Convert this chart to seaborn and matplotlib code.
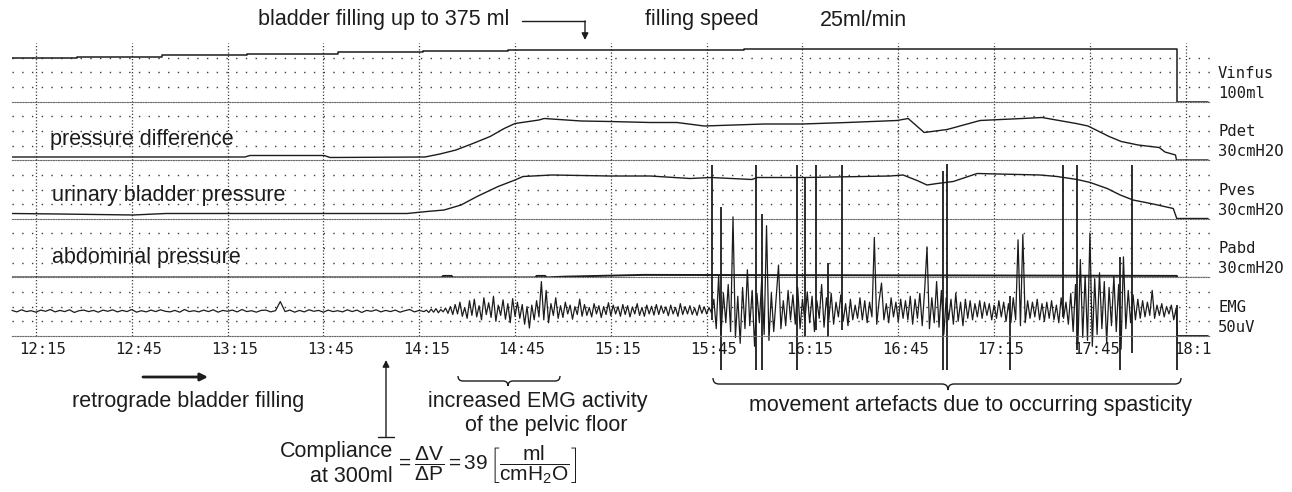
import numpy as np
import matplotlib
matplotlib.use("Agg")
import matplotlib.pyplot as plt
import seaborn as sns
from matplotlib.transforms import ScaledTranslation
from matplotlib.path import Path
from matplotlib.patches import PathPatch, FancyArrowPatch
from matplotlib.lines import Line2D

# ---------------- data (time = minutes after 12:00) ----------------
tick_minutes = [15, 45, 75, 105, 135, 165, 195, 225, 255, 285, 315, 345, 375]
tick_labels = ["12:15", "12:45", "13:15", "13:45", "14:15", "14:45", "15:15",
               "15:45", "16:15", "16:45", "17:15", "17:45", "18:1"]

# infused volume (ml), step trace
vinfus_t = [7.5, 27.8, 54.5, 81.1, 109.6, 136.2, 162.8, 236.7, 372.3, 382.0]
vinfus_ml = [296, 302, 316, 327, 336, 345, 354, 361, 0, 0]

# detrusor pressure (cmH2O)
pdet_t = [7.5, 80.4, 82.0, 105.2, 107.1, 136.8, 141.5, 146.5, 151.8, 157.2,
          161.6, 165.0, 172.5, 174.1, 185.7, 194.7, 207.3, 215.7, 224.2, 243.0,
          254.9, 269.0, 284.6, 288.1, 293.1, 300.3, 310.6, 323.8, 330.0, 340.7,
          344.4, 351.0, 354.8, 360.1, 366.7, 368.5, 371.8, 372.1, 382.0]
pdet_cmh2o = [0, 0, 3, 3, -1, 0, 6, 14, 27, 41,
              57, 67, 74, 77, 72, 71, 69, 69, 62, 66,
              66, 69, 73, 77, 49, 55, 73, 77, 79, 67,
              62, 41, 31, 24, 19, 10, 4, -6, -6]

# vesical pressure (cmH2O)
pves_t = [7.5, 22.2, 45.4, 55.7, 131.2, 137.4, 142.8, 148.1, 153.1, 159.7,
          165.0, 167.5, 176.6, 194.7, 207.3, 219.8, 226.4, 239.2, 240.8, 256.1,
          282.4, 286.5, 290.9, 294.0, 297.2, 302.2, 309.7, 329.4, 334.7, 341.0,
          345.1, 350.4, 354.5, 358.5, 364.8, 371.1, 372.2, 382.0]
pves_cmh2o = [0, -1, -3, 0, 0, 4, 7, 17, 34, 54,
              67, 74, 77, 75, 75, 70, 72, 68, 72, 72,
              75, 77, 66, 57, 60, 64, 80, 77, 74, 68,
              62, 50, 37, 27, 19, 10, -10, -10]

# abdominal pressure (cmH2O)
pabd_t = [7.5, 142.0, 142.5, 145.1, 145.6, 171.3, 171.8, 174.4, 174.9, 180.6,
          205.1, 300.0, 372.2, 372.5, 382.0]
pabd_cmh2o = [-1, -1, 2, 2, -1, -1, 2, 2, -1, 0.5,
              4, 3, 2, -2, -2]

# pelvic floor EMG (uV), three recording segments with their sample spacing
emg_quiet_start, emg_quiet_step = 7.5, 1.5
emg_quiet_uv = [2, -3, 4, -2, 1, -4, 3, -1, 5, -3, 2, -2, 4, -5, 1, 3, -2, 2, -4, 3,
                -1, 4, -3, 2, -2, 5, -4, 1, -3, 3, -2, 4, -1, -3, 2, -4, 5, -2, 1, -3,
                3, -2, 4, -4, 2, -1, 3, -3, 5, -2, 1, -4, 2, 3, -3, 1, 32, -2, 3, -4,
                2, -3, 4, -1, 2, -4, 3, -2, 1, -3, 4, -2, 3, -5, 2, -1, 4, -3, 2, -2,
                3, -4, 1, 5, -3, 2, -2]
emg_active_start, emg_active_step = 137.25, 0.75
emg_active_uv = [3, -5, 6, -4, 8, -6, 5, -3, 10, -8,
                 15, -12, 22, -10, 30, -18, 12, -25, 35, -15,
                 40, -20, 18, -30, 45, -12, 28, -22, 50, -35,
                 20, -15, 38, -28, 25, -40, 42, -18, 30, -25,
                 22, -45, 15, -58, 20, -30, 35, -20, 100, -30,
                 70, -40, 25, -15, 45, -25, 18, -22, 30, -10,
                 20, -28, 15, -12, 40, -18, 22, -15, 12, -20,
                 25, -10, 18, -22, 15, -12, 28, -16, 20, -10,
                 15, -18, 22, -12, 18, -20, 14, -10, 25, -15,
                 12, -18, 20, -10, 16, -14, 22, -12, 18, -8,
                 14, -16, 20, -10, 12, -18, 25, -12, 15, -10,
                 18, -12, 10, -15, 20, -8, 14, -10, 12, -6]
emg_spastic_start, emg_spastic_step = 227.25, 0.75
emg_spastic_uv = [40, -60, 120, -80, 60, -40, 90, -70, 320, -90,
                  50, -110, 80, -60, 140, -50, 70, -120, 60, -40,
                  110, -80, 290, -100, 60, -70, 45, 156, -60, 35,
                  -50, 70, -30, 55, -45, 80, -60, 40, -35, 65,
                  -40, 50, -70, 35, -25, 90, -55, 45, -30, 60,
                  -45, 30, -20, 55, -35, 25, -50, 40, -30, 20,
                  -25, 45, -30, 35, -40, 30, -20, 250, -45, 35,
                  95, -30, 25, -40, 45, -20, 30, -35, 40, -25,
                  35, -30, 50, -45, 40, -25, 60, -50, 70, 218,
                  -60, 45, -40, 100, -55, 70, -80, 45, -30, 40,
                  -45, 60, -35, 30, -50, 40, -25, 35, -30, 25,
                  -20, 35, -25, 30, -15, 25, -30, 20, -25, 35,
                  -20, 30, -35, 25, -40, 45, -30, 242, -50, 260,
                  -40, 35, -25, 30, -20, 40, -30, 25, -35, 30,
                  -25, 35, -30, 20, -40, 45, -25, 30, -45, 60,
                  -70, 90, -110, 175, -90, 120, -100, 265, -120, 110,
                  -80, 130, -60, 100, -110, 80, -50, 120, -70, 90,
                  -130, 184, -60, 70, -40, 55, -30, 40, -25, 35,
                  -20, 30, -15, 70, -25, 20, -15, 25, -20, 15,
                  -10, 20, -30, 10]
emg_end_t = [372.4, 382.0]
emg_end_uv = [-84, -84]

# movement artefacts (uV, relative to EMG baseline)
art_t = [226.7, 229.5, 240.5, 242.4, 253.4, 255.9, 259.3, 263.0, 267.4,
         299.0, 300.3, 320.0, 336.6, 341.0, 354.5, 358.2, 372.3]
art_top_uv = [497, 355, 497, 330, 497, 452, 497, 163, 497,
              475, 500, 50, 497, 497, 184, 497, 20]
art_bottom_uv = [-30, -200, -200, -200, -200, -88, -65, -88, -65,
                 -200, -200, -200, -20, -133, -200, -143, -200]

channel_names = ["Vinfus", "Pdet", "Pves", "Pabd", "EMG"]
channel_scales = ["100ml", "30cmH2O", "30cmH2O", "30cmH2O", "50uV"]

# ---------------- style ----------------
sns.set_theme(style="white")
plt.rcParams["font.family"] = ["Liberation Sans", "DejaVu Sans"]
plt.rcParams["mathtext.fontset"] = "custom"
plt.rcParams["mathtext.rm"] = "Liberation Sans"
plt.rcParams["mathtext.it"] = "Liberation Sans"
plt.rcParams["mathtext.bf"] = "Liberation Sans:bold"

W, H = 1292, 492
fig = plt.figure(figsize=(W / 100, H / 100), dpi=100)
fig.patch.set_facecolor("white")

def fx(px):
    return px / W

def fy(py):
    return 1 - py / H

INK = "#1c1c1c"
DOT = "#3a3a3a"
SEP = "#6a6a6a"
SANS = 15.5
MONO = 11.2
mono = ["DejaVu Sans Mono"]

left_px, right_px = 12, 1210
band_tops = [43, 101.6, 160.2, 218.8, 277.4]
band_h = 58.6
ylims = [(0, 400), (-6.4, 110.8), (-10.6, 106.6), (-1, 116.2), (-85, 114.2)]

axes = []
for i, top in enumerate(band_tops):
    ax = fig.add_axes([fx(left_px), fy(top + band_h), (right_px - left_px) / W, band_h / H])
    ax.patch.set_alpha(0)
    ax.set_xlim(7.5, 382.6)
    lo, hi = ylims[i]
    ax.set_ylim(lo, hi)
    ax.set_xticks(tick_minutes)
    ax.set_yticks([lo + k * (hi - lo) / 4 for k in (1, 2, 3)])
    ax.grid(True, axis="x", color=DOT, ls=(0, (1, 1.6)), lw=0.9)
    ax.grid(True, axis="y", color=DOT, ls=(0, (1, 6)), lw=1.0)
    ax.tick_params(length=0, labelleft=False, labelbottom=False)
    for s in ("left", "right", "top"):
        ax.spines[s].set_visible(False)
    ax.spines["bottom"].set_linestyle((0, (1, 1.3)))
    ax.spines["bottom"].set_color(SEP)
    ax.spines["bottom"].set_linewidth(0.8)
    axes.append(ax)
    fig.text(fx(1218), fy(top + 30), channel_names[i], family=mono, fontsize=MONO,
             color=INK, va="center", ha="left")
    fig.text(fx(1218), fy(top + 50), channel_scales[i], family=mono, fontsize=MONO,
             color=INK, va="center", ha="left")

ax_v, ax_det, ax_ves, ax_abd, ax_emg = axes

sns.lineplot(x=vinfus_t, y=vinfus_ml, ax=ax_v, color=INK, lw=1.1,
             drawstyle="steps-post", estimator=None, sort=False, legend=False)
sns.lineplot(x=pdet_t, y=pdet_cmh2o, ax=ax_det, color=INK, lw=1.0,
             estimator=None, sort=False, legend=False)
sns.lineplot(x=pves_t, y=pves_cmh2o, ax=ax_ves, color=INK, lw=1.0,
             estimator=None, sort=False, legend=False)
sns.lineplot(x=pabd_t, y=pabd_cmh2o, ax=ax_abd, color=INK, lw=1.4,
             estimator=None, sort=False, legend=False)

emg_t = np.concatenate([
    emg_quiet_start + emg_quiet_step * np.arange(len(emg_quiet_uv)),
    emg_active_start + emg_active_step * np.arange(len(emg_active_uv)),
    emg_spastic_start + emg_spastic_step * np.arange(len(emg_spastic_uv)),
    emg_end_t])
emg_uv = np.concatenate([emg_quiet_uv, emg_active_uv, emg_spastic_uv, emg_end_uv])
sns.lineplot(x=emg_t, y=emg_uv, ax=ax_emg, color=INK, lw=0.9,
             estimator=None, sort=False, legend=False, clip_on=False)
ax_emg.vlines(art_t, art_bottom_uv, art_top_uv, colors=INK, lw=1.3, clip_on=False)

for ax in axes:
    ax.set_xlabel("")
    ax.set_ylabel("")
    ax.set_xlim(7.5, 382.6)

ax_emg.set_xticks(tick_minutes, tick_labels)
ax_emg.tick_params(labelbottom=True, pad=4)
shift = ScaledTranslation(7 / 100, 0, fig.dpi_scale_trans)
for lab in ax_emg.get_xticklabels():
    lab.set_family(mono)
    lab.set_fontsize(MONO)
    lab.set_color(INK)
    lab.set_transform(lab.get_transform() + shift)

# ---------------- annotations ----------------
def ftext(x, y, s, **kw):
    kw.setdefault("fontsize", SANS)
    kw.setdefault("color", INK)
    kw.setdefault("va", "center")
    fig.text(fx(x), fy(y), s, **kw)

ftext(258, 20, "bladder filling up to 375 ml")
ftext(645, 20, "filling speed")
ftext(820, 20, "25ml/min")
ftext(50, 139, "pressure difference")
ftext(52, 196, "urinary bladder pressure")
ftext(52, 257, "abdominal pressure")
ftext(72, 402, "retrograde bladder filling")
ftext(428, 402, "increased EMG activity")
ftext(465, 425, "of the pelvic floor")
ftext(749, 405, "movement artefacts due to occurring spasticity")
ftext(393, 451, "Compliance", ha="right")
ftext(393, 476, "at 300ml", ha="right")
ftext(395, 465, r"$=\dfrac{\Delta\mathrm{V}}{\Delta\mathrm{P}}=39\,\left[\dfrac{\mathrm{ml}}{\mathrm{cmH_2O}}\right]$",
      ha="left", fontsize=15)

# arrows
fig.add_artist(Line2D([fx(522), fx(585)], [fy(21), fy(21)], color=INK, lw=1.0,
                      transform=fig.transFigure))
fig.add_artist(FancyArrowPatch((fx(585), fy(21)), (fx(585), fy(40)),
                               arrowstyle="-|>", mutation_scale=10, color=INK, lw=1.0,
                               transform=fig.transFigure, shrinkA=0, shrinkB=0))
fig.add_artist(FancyArrowPatch((fx(143), fy(377)), (fx(208), fy(377)),
                               arrowstyle="-|>", mutation_scale=11, color=INK, lw=2.0,
                               transform=fig.transFigure, shrinkA=0, shrinkB=0))
fig.add_artist(FancyArrowPatch((fx(386), fy(437)), (fx(386), fy(360)),
                               arrowstyle="-|>", mutation_scale=10, color=INK, lw=1.0,
                               transform=fig.transFigure, shrinkA=0, shrinkB=0))
fig.add_artist(Line2D([fx(378), fx(394)], [fy(437), fy(437)], color=INK, lw=1.0,
                      transform=fig.transFigure))

def brace(x0, x1, y, h, xm=None):
    xm = (x0 + x1) / 2 if xm is None else xm
    pts = [(x0, y - h), (x0, y), (x0 + h, y), (xm - h, y), (xm, y), (xm, y + h),
           (xm, y), (xm + h, y), (x1 - h, y), (x1, y), (x1, y - h)]
    codes = [Path.MOVETO, Path.CURVE3, Path.CURVE3, Path.LINETO, Path.CURVE3, Path.CURVE3,
             Path.CURVE3, Path.CURVE3, Path.LINETO, Path.CURVE3, Path.CURVE3]
    verts = [(fx(px), fy(py)) for px, py in pts]
    fig.add_artist(PathPatch(Path(verts, codes), transform=fig.transFigure,
                             fill=False, lw=1.0, edgecolor=INK))

brace(458, 560, 381, 5, xm=508)
brace(713, 1181, 384, 6, xm=948)

fig.savefig("out.png", dpi=100, facecolor="white")
